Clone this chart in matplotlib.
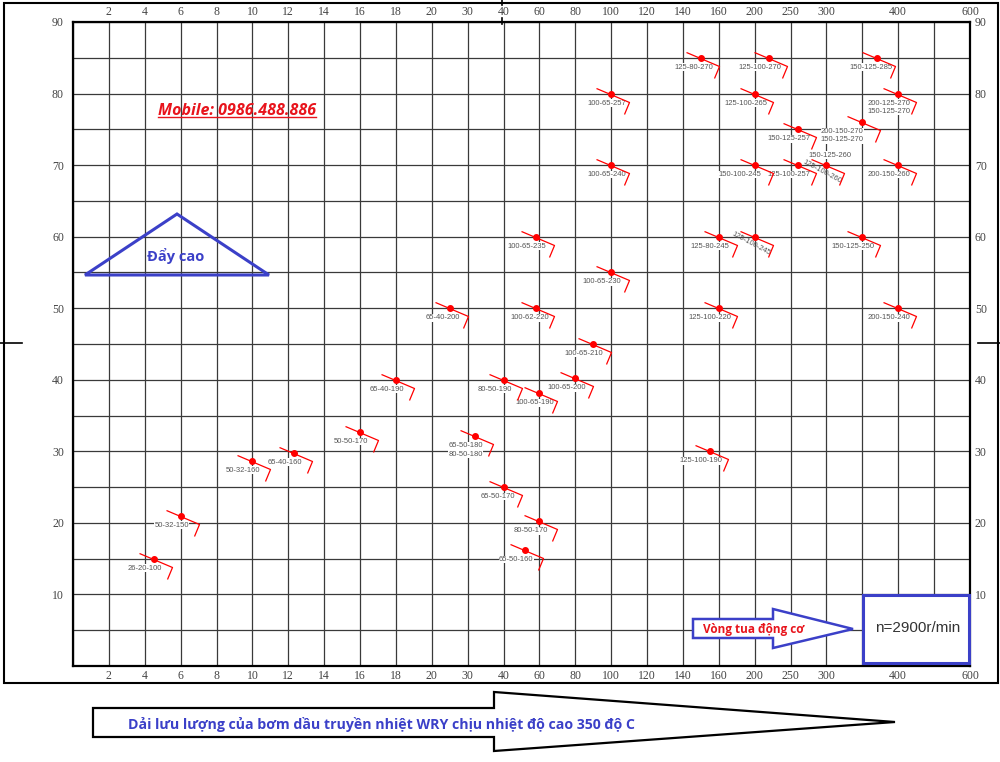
import numpy as np
import matplotlib
matplotlib.use('Agg')
import matplotlib.pyplot as plt
import matplotlib.transforms as mtransforms
from matplotlib.patches import Polygon, Rectangle
from matplotlib.lines import Line2D
from matplotlib.path import Path

# x grid: evenly spaced columns carrying a non-uniform flow scale (m3/h)
grid_flow = [0, 2, 4, 6, 8, 10, 12, 14, 16, 18, 20, 30, 40, 60, 80, 100,
             120, 140, 160, 200, 250, 300, 350, 400, 500, 600]
grid_labels = ['', '2', '4', '6', '8', '10', '12', '14', '16', '18', '20', '30',
               '40', '60', '80', '100', '120', '140', '160', '200', '250', '300',
               '', '400', '', '600']
head_ticks = list(range(0, 95, 5))

# pump models: label, flow, head
models = ['26-20-100', '50-32-150', '50-32-160', '65-40-160', '50-50-170',
          '65-40-190', '65-40-200', '65-50-180\n80-50-180', '65-50-170',
          '80-50-170', '65-50-160', '80-50-190', '100-65-190', '100-65-200',
          '100-65-210', '100-62-220', '100-65-235', '100-65-230', '100-65-240',
          '100-65-257', '125-100-190', '125-100-220', '125-80-245',
          '125-100-245', '150-125-250', '200-150-240', '150-100-245',
          '125-100-257', '125-100-260', '200-150-260', '150-125-257',
          '200-150-270\n150-125-270', '125-100-265', '200-125-270\n150-125-270',
          '125-80-270', '125-100-270', '150-125-285']
flow = [4.5, 6, 10, 12.3, 16, 18, 25, 32, 40, 60, 52, 40, 60, 80, 90, 58, 58,
        100, 100, 100, 155, 160, 160, 200, 350, 400, 200, 260, 300, 400, 260,
        350, 200, 400, 150, 220, 370]
head = [15, 21, 28.7, 29.8, 32.7, 40, 50, 32.1, 25, 20.2, 16.2, 40, 38.1,
        40.2, 45, 50, 60, 55, 70, 80, 30, 50, 60, 60, 60, 50, 70, 70, 70, 70,
        75, 76, 80, 80, 85, 85, 85]

rotated = ['125-100-245', '125-100-260']
extra_label = ('150-125-260', 300, 70)

blue = '#3b40c8'
red = '#ff0000'
text_red = '#e8141c'
vn_font = ['Open Sans', 'DejaVu Sans']

fig = plt.figure(figsize=(10, 7.62), dpi=100)
fig.patch.set_facecolor('white')
W, H = 1000, 762
# helper transform: figure pixels measured from the top-left corner
px = mtransforms.Affine2D().scale(1 / W, -1 / H).translate(0, 1) + fig.transFigure

ax = fig.add_axes([73 / W, (H - 666) / H, 897 / W, 644 / H])
idx = np.arange(len(grid_flow))
ax.set_xscale('function', functions=(lambda v: np.interp(v, grid_flow, idx),
                                     lambda i: np.interp(i, idx, grid_flow)))
ax.set_xlim(0, 600)
ax.set_ylim(0, 90)
ax.set_xticks(grid_flow)
ax.set_xticklabels(grid_labels)
ax.set_yticks(head_ticks)
ylabels = [str(v) if v % 10 == 0 and v > 0 else '' for v in head_ticks]
ax.set_yticklabels(ylabels)
ax.minorticks_off()
ax.grid(True, color='#3a3a3a', linewidth=0.9)
ax.set_axisbelow(True)
for s in ax.spines.values():
    s.set_linewidth(1.6)
    s.set_color('black')

ax.tick_params(axis='x', length=0, top=True, labeltop=True, pad=3,
               labelcolor='#444', labelsize=8.5)
ax.tick_params(axis='y', length=0, pad=6.5, labelcolor='#444', labelsize=8.5)

# right-hand head labels sit closer to the frame
ax2 = ax.twinx()
ax2.set_ylim(0, 90)
ax2.set_yticks(head_ticks)
ax2.set_yticklabels(ylabels)
ax2.tick_params(axis='y', length=0, pad=3.5, labelcolor='#444', labelsize=8.5)
for s in ax2.spines.values():
    s.set_visible(False)

for t in ax.xaxis.get_major_ticks():
    t.label1.set_family('Liberation Serif')
    t.label2.set_family('Liberation Serif')
for lab in ax.get_yticklabels() + ax2.get_yticklabels():
    lab.set_family('Liberation Serif')

# bracket marker (pixel offsets, y up)
bracket = Path([(-15, 6), (18, -8), (13, -20)],
               [Path.MOVETO, Path.LINETO, Path.LINETO])
ax.plot(flow, head, linestyle='none', marker=bracket, ms=28.8,
        mfc='none', mec=red, mew=0.9, zorder=4)
ax.plot(flow, head, linestyle='none', marker='o', ms=4, color=red, zorder=5)

label_dx = {'150-100-245': -15, '200-150-270\n150-125-270': -20,
            '100-65-257': -4, '100-65-240': -4, '100-65-190': -5,
            '100-62-220': -6, '65-40-200': -7, '125-80-270': -7,
            '150-125-285': -6, '65-50-170': -6}
pt_font = dict(family='Liberation Sans', size=5.5, color='#555')
box = dict(fc='white', ec='none', pad=0.2)
for name, x, y in zip(models, flow, head):
    if name in rotated:
        ax.annotate(name, (x, y), xytext=(-4, -7), textcoords='offset pixels',
                    ha='center', va='center', rotation=-28,
                    rotation_mode='anchor', zorder=3, **pt_font)
    else:
        ax.annotate(name, (x, y), xytext=(label_dx.get(name, -9), -6),
                    textcoords='offset pixels', ha='center', va='top',
                    linespacing=1.25, bbox=box, zorder=3, **pt_font)
ax.annotate(extra_label[0], extra_label[1:], xytext=(3, 10),
            textcoords='offset pixels', ha='center', va='center',
            bbox=box, zorder=3, **pt_font)

# outer frame and centre marks
fig.add_artist(Rectangle((4, 3), 994, 680, transform=px, fill=False,
                         lw=1.5, ec='black'))
for (x0, y0), (x1, y1) in [((0, 343), (22, 343)), ((978, 343), (1000, 343)),
                           ((502, 0), (502, 5)), ((502, 18), (502, 24))]:
    fig.add_artist(Line2D([x0, x1], [y0, y1], transform=px, color='black', lw=1.2))

# "Đẩy cao" triangle
fig.add_artist(Polygon([(85, 275), (177, 214), (269, 275)], closed=True,
                       transform=px, fill=False, ec=blue, lw=2.2))
fig.text(176, 256, 'Đẩy cao', transform=px, ha='center', va='center',
         color=blue, fontsize=10.5, fontweight='bold', family=vn_font)

# phone number, underlined
mob = fig.text(237, 111, 'Mobile: 0986.488.886', transform=px, ha='center',
               va='center', color=text_red, fontsize=11.5, fontweight='bold',
               fontstyle='italic', family=vn_font)

# speed arrow and box
fig.add_artist(Polygon([(693, 619), (773, 619), (773, 609), (853, 629),
                        (773, 648), (773, 638), (693, 638)], closed=True,
                       transform=px, fc='white', ec=blue, lw=1.8, zorder=6))
fig.text(754, 629, 'Vòng tua động cơ', transform=px, ha='center', va='center',
         color=text_red, fontsize=8.5, fontweight='bold', family=vn_font, zorder=7)
fig.add_artist(Rectangle((863, 595), 106, 68, transform=px, fc='white',
                         ec=blue, lw=2.2, zorder=6))
fig.text(918, 628, 'n=2900r/min', transform=px, ha='center', va='center',
         color='#333', fontsize=11, family='Liberation Sans', zorder=7)

# bottom flow-range arrow
fig.add_artist(Polygon([(93, 708), (494, 708), (494, 692), (895, 722),
                        (494, 751), (494, 737), (93, 737)], closed=True,
                       transform=px, fill=False, ec='black', lw=1.6))
fig.text(128, 724, 'Dải lưu lượng của bơm dầu truyền nhiệt WRY chịu nhiệt độ cao 350 độ C',
         transform=px, ha='left', va='center', color=blue, fontsize=10.2,
         fontweight='bold', family=vn_font)

fig.canvas.draw()
bb = mob.get_window_extent()
inv = fig.transFigure.inverted()
(u0, v0), (u1, _) = inv.transform([(bb.x0, bb.y0 + 2), (bb.x1, bb.y0 + 2)])
fig.add_artist(Line2D([u0, u1], [v0, v0], transform=fig.transFigure,
                      color=text_red, lw=1.0))

fig.savefig('out.png', dpi=100)
